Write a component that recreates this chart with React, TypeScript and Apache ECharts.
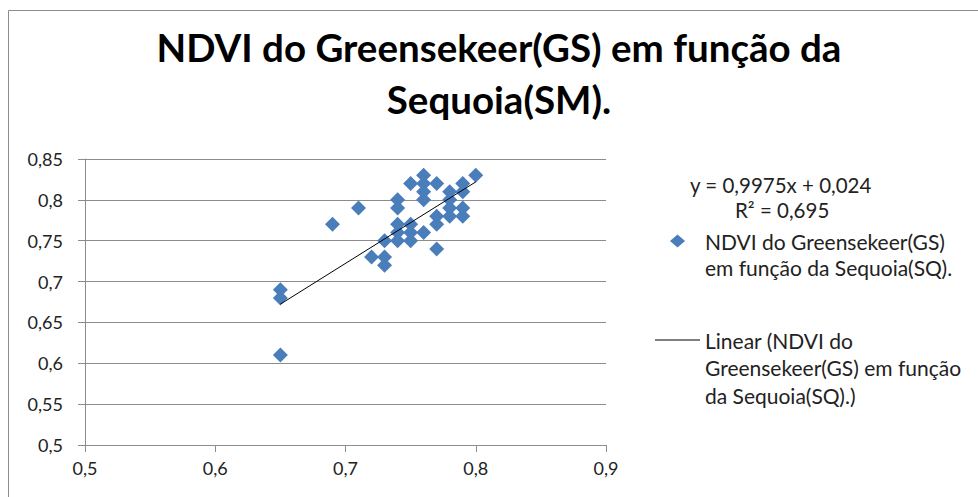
import React, { useEffect, useRef } from "react";
import * as echarts from "echarts";

const xValues = [0.65, 0.65, 0.65, 0.69, 0.71, 0.72, 0.73, 0.73, 0.73, 0.74, 0.74, 0.74, 0.74, 0.74, 0.75, 0.75, 0.75, 0.75, 0.76, 0.76, 0.76, 0.76, 0.76, 0.77, 0.77, 0.77, 0.77, 0.78, 0.78, 0.78, 0.78, 0.79, 0.79, 0.79, 0.79, 0.8];
const yValues = [0.69, 0.68, 0.61, 0.77, 0.79, 0.73, 0.75, 0.73, 0.72, 0.8, 0.79, 0.77, 0.76, 0.75, 0.82, 0.77, 0.76, 0.75, 0.83, 0.82, 0.81, 0.8, 0.76, 0.82, 0.78, 0.77, 0.74, 0.81, 0.8, 0.79, 0.78, 0.82, 0.81, 0.79, 0.78, 0.83];

const slope = 0.9975;
const intercept = 0.024;
const rSquared = 0.695;

const titleText = "NDVI do Greensekeer(GS) em função da\nSequoia(SM).";
const seriesName = "NDVI do Greensekeer(GS) em função da Sequoia(SQ).";
const trendName = "Linear (NDVI do Greensekeer(GS) em função da Sequoia(SQ).)";

const FONT = "Lato";
const fmt = (v: number) => String(+v.toFixed(4)).replace(".", ",");

export default function App() {
  const ref = useRef<HTMLDivElement>(null);
  useEffect(() => {
    if (!ref.current) return;
    const chart = echarts.init(ref.current, undefined, { renderer: "svg" });
    const points = xValues.map((x, i) => [x, yValues[i]]);
    const xMin = Math.min(...xValues);
    const xMax = Math.max(...xValues);
    const trend = [
      [xMin, slope * xMin + intercept],
      [xMax, slope * xMax + intercept],
    ];
    const axisColor = "#8c8c8c";
    chart.setOption({
      animation: false,
      backgroundColor: "#ffffff",
      title: {
        text: titleText,
        left: 499,
        textAlign: "center",
        top: 21,
        padding: 0,
        textStyle: {
          fontFamily: FONT,
          fontWeight: "bold",
          fontSize: 38.5,
          lineHeight: 52,
          color: "#000",
        },
      },
      grid: { left: 85, right: 372, top: 159, bottom: 52 },
      xAxis: {
        type: "value",
        min: 0.5,
        max: 0.9,
        interval: 0.1,
        axisLine: { show: true, lineStyle: { color: axisColor } },
        axisTick: { show: true, length: 7, lineStyle: { color: axisColor } },
        splitLine: { show: false },
        axisLabel: {
          margin: 14,
          fontFamily: FONT,
          fontSize: 18,
          color: "#222",
          formatter: (v: number) => fmt(v),
        },
      },
      yAxis: {
        type: "value",
        min: 0.5,
        max: 0.85,
        interval: 0.05,
        axisLine: { show: true, lineStyle: { color: axisColor } },
        axisTick: { show: true, length: 7, lineStyle: { color: axisColor } },
        splitLine: { show: true, lineStyle: { color: axisColor } },
        axisLabel: {
          margin: 22,
          fontFamily: FONT,
          fontSize: 18,
          color: "#222",
          formatter: (v: number) => fmt(v),
        },
      },
      legend: [
        {
          orient: "vertical",
          left: 670,
          top: 241 - 1.5 * 26,
          padding: 0,
          itemWidth: 15,
          itemHeight: 13,
          selectedMode: false,
          data: [{ name: seriesName, icon: "diamond" }],
          formatter: () => "\n{s|}NDVI do Greensekeer(GS)\n{s|}em função da Sequoia(SQ).",
          textStyle: {
            fontFamily: FONT,
            fontSize: 21,
            lineHeight: 26,
            color: "#222",
            rich: { s: { width: 15, lineHeight: 26 } },
          },
        },
        {
          orient: "vertical",
          left: 655,
          top: 340 - 2.5 * 27.5,
          padding: 0,
          itemWidth: 45,
          itemHeight: 12,
          selectedMode: false,
          data: [{ name: trendName, icon: "path://M0,0H45V1H0Z" }],
          formatter: () => "\n\nLinear (NDVI do\nGreensekeer(GS) em função\nda Sequoia(SQ).)",
          textStyle: { fontFamily: FONT, fontSize: 21, lineHeight: 27.5, color: "#222" },
        },
      ],
      graphic: [
        {
          type: "rect",
          shape: { x: 8.5, y: 10.5, width: 1200, height: 1200 },
          style: { fill: "none", stroke: "#8c8c8c", lineWidth: 1 },
          silent: true,
        },
        {
          type: "text",
          x: 690,
          y: 185,
          style: {
            text: `y = ${fmt(slope)}x + ${fmt(intercept)}`,
            fontFamily: FONT,
            fontSize: 20.5,
            fill: "#222",
            verticalAlign: "middle",
          },
        },
        {
          type: "text",
          x: 735,
          y: 210,
          style: {
            text: `R² = ${fmt(rSquared)}`,
            fontFamily: FONT,
            fontSize: 20.5,
            fill: "#222",
            verticalAlign: "middle",
          },
        },
      ],
      series: [
        {
          name: seriesName,
          type: "scatter",
          symbol: "diamond",
          symbolSize: 15,
          itemStyle: { color: "#4a7ebb", opacity: 1 },
          data: points,
          z: 2,
        },
        {
          name: trendName,
          type: "line",
          symbol: "none",
          itemStyle: { color: "#000" },
          lineStyle: { color: "#000", width: 1 },
          data: trend,
          z: 3,
        },
      ],
    });
    return () => chart.dispose();
  }, []);
  return (
    <div
      ref={ref}
      style={{ position: "fixed", left: 0, top: 0, width: 978, height: 497, background: "#fff" }}
    />
  );
}
